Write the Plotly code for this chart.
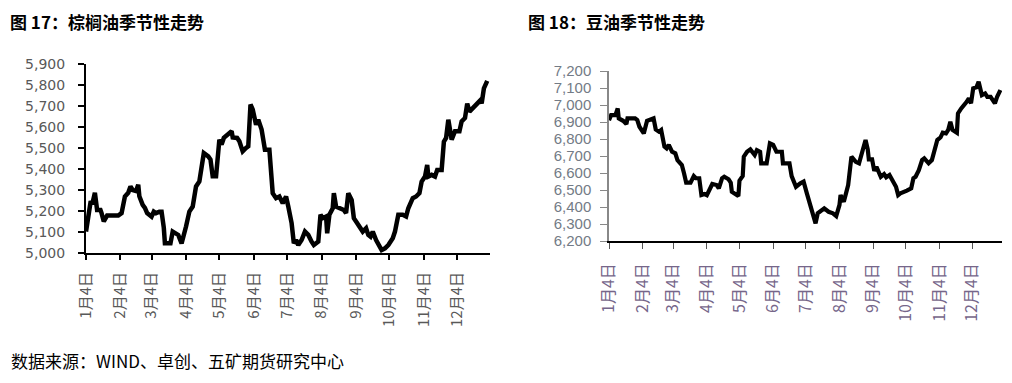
import plotly.graph_objects as go

# ---- Data (day-of-year, value) ----
palm_day = [4, 8, 10, 12, 14, 17, 18, 20, 23, 33, 36, 39, 42, 44, 46, 49, 51, 52, 55, 57,
            59, 63, 65, 67, 70, 72, 74, 75, 80, 82, 87, 90, 94, 97, 100, 103, 106, 108, 110, 114,
            116, 118, 121, 124, 126, 128, 132, 135, 136, 140, 142, 145, 148, 150, 152, 154, 157, 159, 162, 165,
            169, 172, 175, 178, 181, 184, 186, 189, 191, 193, 195, 198, 201, 204, 207, 209, 213, 215, 217, 220,
            221, 223, 226, 227, 229, 232, 236, 238, 240, 243, 245, 247, 250, 253, 256, 258, 260, 262, 265, 270,
            273, 276, 280, 282, 285, 289, 292, 294, 298, 301, 304, 306, 309, 311, 312, 315, 318, 320, 324, 326,
            328, 330, 333, 336, 340, 342, 345, 347, 349, 352, 356, 359, 360, 362, 364, 365]
palm_val = [5102, 5239, 5240, 5287, 5205, 5205, 5190, 5150, 5178, 5178, 5190, 5269, 5287, 5317, 5300, 5295, 5325, 5270, 5229, 5215,
            5190, 5173, 5197, 5190, 5197, 5197, 5120, 5046, 5046, 5102, 5086, 5046, 5126, 5197, 5221, 5317, 5341, 5412, 5476, 5460,
            5445, 5365, 5365, 5540, 5516, 5548, 5564, 5580, 5550, 5548, 5532, 5484, 5500, 5508, 5707, 5683, 5611, 5635, 5588, 5492,
            5492, 5285, 5261, 5269, 5237, 5269, 5221, 5142, 5046, 5062, 5038, 5062, 5102, 5086, 5054, 5038, 5054, 5182, 5166, 5174,
            5094, 5182, 5213, 5285, 5221, 5213, 5205, 5190, 5285, 5253, 5166, 5150, 5126, 5102, 5118, 5086, 5078, 5102, 5062, 5014,
            5022, 5038, 5070, 5102, 5182, 5182, 5174, 5213, 5261, 5269, 5285, 5340, 5364, 5419, 5364, 5372, 5364, 5395, 5395, 5530,
            5548, 5635, 5540, 5580, 5580, 5627, 5643, 5712, 5673, 5689, 5712, 5728, 5712, 5784, 5808, 5820]

soy_day = [4, 6, 10, 12, 13, 17, 20, 21, 28, 30, 32, 36, 39, 42, 45, 47, 50, 52, 55, 57,
           59, 62, 65, 67, 71, 73, 75, 79, 82, 84, 87, 89, 92, 94, 97, 99, 103, 105, 108, 110,
           114, 116, 117, 121, 123, 124, 127, 128, 131, 134, 136, 138, 140, 143, 144, 149, 152, 155, 158, 163,
           164, 170, 172, 176, 180, 183, 186, 189, 192, 194, 196, 199, 202, 206, 210, 213, 216, 217, 220, 222,
           224, 227, 231, 234, 237, 240, 242, 243, 246, 248, 250, 252, 254, 257, 259, 262, 265, 268, 270, 272,
           278, 282, 284, 286, 289, 292, 294, 298, 301, 304, 306, 309, 311, 314, 316, 318, 320, 324, 325, 328,
           331, 333, 335, 337, 339, 342, 344, 347, 350, 352, 355, 357, 359, 361, 364]
soy_val = [6911, 6941, 6941, 6980, 6921, 6907, 6888, 6921, 6921, 6911, 6872, 6833, 6907, 6911, 6921, 6856, 6843, 6853, 6755, 6745,
           6765, 6725, 6716, 6676, 6647, 6598, 6543, 6543, 6582, 6569, 6569, 6470, 6476, 6470, 6510, 6535, 6529, 6510, 6569, 6578,
           6563, 6543, 6490, 6476, 6464, 6555, 6582, 6696, 6725, 6739, 6725, 6706, 6735, 6725, 6657, 6657, 6774, 6765, 6725, 6725,
           6657, 6657, 6582, 6519, 6539, 6549, 6480, 6412, 6363, 6304, 6363, 6378, 6392, 6372, 6363, 6347, 6412, 6470, 6431, 6480,
           6529, 6696, 6666, 6657, 6735, 6794, 6739, 6680, 6680, 6613, 6637, 6613, 6578, 6594, 6575, 6588, 6549, 6519, 6470, 6480,
           6496, 6510, 6569, 6578, 6617, 6676, 6686, 6657, 6676, 6735, 6794, 6810, 6837, 6833, 6853, 6902, 6853, 6837, 6951, 6980,
           7000, 7019, 7039, 7010, 7098, 7104, 7137, 7058, 7068, 7048, 7048, 7029, 7010, 7048, 7088]

tick_days = [4, 35, 63, 94, 124, 155, 185, 216, 247, 277, 308, 338]
tick_labels = ["1月4日", "2月4日", "3月4日", "4月4日", "5月4日", "6月4日",
               "7月4日", "8月4日", "9月4日", "10月4日", "11月4日", "12月4日"]

palm_yticks = [5000, 5100, 5200, 5300, 5400, 5500, 5600, 5700, 5800, 5900]
soy_yticks = [6200, 6300, 6400, 6500, 6600, 6700, 6800, 6900, 7000, 7100, 7200]

title_left = "图 17：棕榈油季节性走势"
title_right = "图 18：豆油季节性走势"
source_text = "数据来源：WIND、卓创、五矿期货研究中心"

# the page body has an 8px margin; size the figure to fit inside the window
OFF = 8
W, H = 1012 - 2 * OFF, 383 - 2 * OFF
FONT = "DejaVu Sans, Noto Sans CJK SC, sans-serif"
CJK = "Noto Sans CJK SC, sans-serif"

fig = go.Figure()
fig.add_trace(go.Scatter(x=palm_day, y=palm_val, mode="lines",
                         line=dict(color="black", width=4.5), xaxis="x", yaxis="y",
                         showlegend=False, hoverinfo="skip"))
fig.add_trace(go.Scatter(x=soy_day, y=soy_val, mode="lines",
                         line=dict(color="black", width=4.2), xaxis="x2", yaxis="y2",
                         showlegend=False, hoverinfo="skip"))

def px_x(p):
    return (p - OFF) / W

def px_y(p):
    return 1 - (p - OFF) / H

fig.update_layout(
    width=W, height=H,
    margin=dict(l=0, r=0, t=0, b=0, autoexpand=False),
    paper_bgcolor="white", plot_bgcolor="white",
    xaxis=dict(domain=[px_x(86), px_x(490)], range=[4, 367.5], automargin=False,
               tickmode="array", tickvals=tick_days, ticktext=tick_labels,
               tickangle=-90, ticks="outside", ticklen=5, tickwidth=1.5, tickcolor="black",
               showline=True, linecolor="black", linewidth=2, showgrid=False, zeroline=False,
               tickfont=dict(family=CJK, size=15, color="#595959"), ticklabelstandoff=6,
               anchor="y"),
    yaxis=dict(domain=[px_y(253), px_y(64)], range=[5000, 5900], automargin=False,
               tickmode="array", tickvals=palm_yticks,
               tickformat=",d", ticks="outside", ticklen=6, tickwidth=1.5, tickcolor="black",
               showline=True, linecolor="black", linewidth=2, showgrid=False, zeroline=False,
               tickfont=dict(family=FONT, size=14, color="#595959"), ticklabelstandoff=10,
               anchor="x"),
    xaxis2=dict(domain=[px_x(609), px_x(1002)], range=[4, 365.5], automargin=False,
                tickmode="array", tickvals=tick_days, ticktext=tick_labels,
                tickangle=-90, ticks="outside", ticklen=6, tickwidth=1.2, tickcolor="#555555",
                showline=True, linecolor="black", linewidth=1.5, showgrid=False, zeroline=False,
                tickfont=dict(family=CJK, size=16, color="#76668a"), ticklabelstandoff=8,
                anchor="y2"),
    yaxis2=dict(domain=[px_y(241), px_y(71)], range=[6200, 7200], automargin=False,
                tickmode="array", tickvals=soy_yticks,
                tickformat=",d", ticks="outside", ticklen=7, tickwidth=1.2, tickcolor="#888888",
                showline=True, linecolor="#888888", linewidth=1.5, showgrid=False, zeroline=False,
                tickfont=dict(family="Liberation Sans, Arial, sans-serif", size=15, color="#737b86"),
                ticklabelstandoff=6,
                anchor="x2"),
)

fig.add_annotation(text="<b>" + title_left + "</b>", xref="paper", yref="paper",
                   x=px_x(9), y=px_y(8), xanchor="left", yanchor="top", showarrow=False,
                   borderpad=0, font=dict(family=CJK, size=17, color="black"))
fig.add_annotation(text="<b>" + title_right + "</b>", xref="paper", yref="paper",
                   x=px_x(527), y=px_y(8), xanchor="left", yanchor="top", showarrow=False,
                   borderpad=0, font=dict(family=CJK, size=17, color="black"))
fig.add_annotation(text=source_text, xref="paper", yref="paper",
                   x=px_x(9), y=px_y(360), xanchor="left", yanchor="middle", showarrow=False,
                   font=dict(family="Noto Sans CJK SC, DejaVu Sans Mono, monospace", size=17, color="black"))

fig.write_html("out.html")
